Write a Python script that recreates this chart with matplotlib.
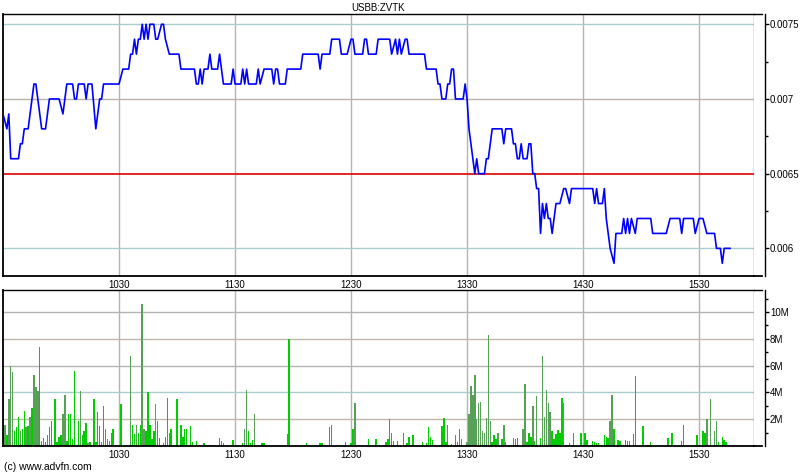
import matplotlib
matplotlib.use("Agg")
import matplotlib.pyplot as plt
from matplotlib.ticker import FixedLocator, NullFormatter

plt.rcParams['font.family'] = ['Liberation Sans', 'DejaVu Sans']

title = "USBB:ZVTK"
footer = "(c) www.advfn.com"

# minutes after 09:30
price_t = [0, 2, 3, 4, 8, 9, 10, 11, 13, 15, 16, 17, 20, 22, 24, 29, 31, 33, 36, 37, 38, 39, 42, 43, 44, 46,
           48, 50, 51, 52, 60, 62, 65, 66, 67, 68, 69, 70, 71, 72, 73, 74, 75, 76, 78, 79, 80, 82, 83, 84,
           86, 91, 92, 99, 100, 101, 102, 103, 104, 106, 107, 108, 111, 112, 114, 118, 119, 120, 123, 124,
           125, 126, 127, 131, 132, 133, 135, 139, 140, 141, 142, 143, 146, 147, 154, 155, 163, 164, 165,
           169, 170, 174, 175, 178, 180, 181, 182, 186, 187, 188, 189, 193, 194, 200, 201, 203, 204, 205,
           206, 208, 209, 210, 218, 219, 224, 225, 226, 227, 229, 230, 231, 232, 233, 234, 238, 239, 240,
           241, 244, 245, 246, 249, 250, 251, 252, 253, 258, 259, 260, 263, 264, 265, 266, 267, 268, 269,
           271, 272, 273, 274, 275, 276, 277, 278, 279, 280, 281, 282, 283, 284, 286, 288, 290, 291, 293,
           294, 305, 306, 307, 308, 310, 311, 312, 314, 316, 317, 320, 321, 322, 323, 324, 325, 327, 328,
           335, 336, 343, 345, 350, 351, 352, 357, 358, 360, 362, 364, 368, 369, 371, 372, 373, 376]
price_v = [.0069, .0068, .0069, .0066, .0066, .0067, .0067, .0068, .0068, .0070, .0071, .0071, .0068, .0068,
           .0070, .0070, .0069, .0071, .0071, .0070, .0070, .0071, .0071, .0070, .0071, .0071,
           .0068, .0070, .0070, .0071, .0071, .0072, .0072, .0073, .0073, .0074, .0073, .0074, .0074, .0075,
           .0074, .0075, .0074, .0075, .0075, .0074, .0074, .0075, .0075, .0074,
           .0073, .0073, .0072, .0072, .0071, .0071, .0072, .0071, .0072, .0072, .0073, .0072, .0072, .0073,
           .0071, .0071, .0072, .0071, .0071, .0072,
           .0071, .0072, .0071, .0071, .0072, .0071, .0072, .0072, .0071, .0072, .0072, .0071, .0071, .0072,
           .0072, .0073, .0073, .0072, .0073,
           .0073, .0074, .0074, .0073, .0073, .0074, .0074, .0073, .0073, .0074, .0074, .0073, .0073, .0074,
           .0074, .0073, .0074, .0073, .0074,
           .0073, .0074, .0074, .0073, .0073, .0072, .0072, .0071, .0071, .0070, .0070, .0071, .0071, .0072,
           .0072, .0070, .0070, .0071, .0070,
           .0068, .0065, .0066, .0065, .0065, .0066, .0066, .0067, .0068, .0068, .0067, .0068, .0068, .0067,
           .0067, .0066, .0066, .0067, .0066,
           .0066, .0067, .0067, .0065, .0065, .0064, .0064, .0061, .0063, .0062, .0063, .0062, .0062, .0061,
           .0063, .0063, .0064, .0064, .0063,
           .0064, .0064, .0063, .0064, .0063, .0063, .0064, .0062, .0060, .0059, .0061, .0061, .0062, .0061,
           .0062, .0061, .0062, .0061, .0062,
           .0062, .0061, .0061, .0062, .0062, .0061, .0062, .0062, .0061, .0062, .0062, .0061, .0061, .0060,
           .0060, .0059, .0060, .0060]
prev_close = 0.0065

vol_t = [0, 1, 2, 3, 4, 5, 6, 7, 8, 9, 10, 11, 12, 13, 14, 15, 16, 17, 18, 19, 20, 21, 22, 23, 24, 25, 27,
         28, 29, 30, 31, 32, 33, 34, 35, 36, 37, 39, 40, 41, 42, 43, 44, 45, 47, 48, 49, 50, 51, 52, 53,
         54, 55, 56, 57, 61, 64, 66, 67, 68, 69, 70, 71, 72, 73, 74, 75, 76, 77, 78, 79, 80, 81, 83, 84,
         85, 86, 87, 90, 92, 93, 94, 95, 97, 98, 100, 104, 105, 106, 107, 108, 110, 112, 113, 114, 115,
         116, 117, 119, 124, 125, 126, 127, 128, 129, 130, 132, 134, 135, 141, 145, 147, 148, 155, 157,
         164, 165, 169, 170, 173, 175, 177, 180, 181, 182, 187, 189, 193, 197, 198, 199, 200, 201, 202,
         204, 207, 209, 210, 212, 213, 217, 219, 220, 221, 222, 226, 227, 228, 229, 230, 232, 234, 235,
         236, 237, 240, 241, 242, 243, 244, 245, 246, 247, 248, 249, 250, 251, 252, 253, 254, 255, 256,
         258, 259, 260, 264, 265, 266, 269, 270, 271, 272, 273, 274, 275, 276, 278, 279, 280, 281, 282,
         283, 284, 285, 286, 287, 288, 289, 290, 293, 295, 299, 301, 302, 305, 306, 307, 308, 310, 311,
         312, 313, 314, 315, 316, 318, 319, 321, 322, 323, 324, 326, 327, 331, 333, 334, 335, 344, 346,
         351, 352, 354, 357, 359, 362, 363, 364, 366, 368, 369, 370, 372, 373, 374]
vol_v = [5.2, 1.6, 0.8, 3.5, 6.0, 5.5, 1.1, 1.4, 2.2, 1.1, 1.3, 2.6, 1.4, 1.5, 2.2, 2.8, 5.3, 4.4, 4.1, 7.4,
         0.4, 0.6, 0.3, 0.8, 1.4, 1.9, 3.5, 0.3, 0.7, 0.8, 2.4, 3.8, 0.4, 2.4, 2.4, 0.5, 5.6, 1.9, 4.1,
         0.8, 1.1, 1.7, 0.25, 0.3, 3.5, 0.3, 2.5, 1.5, 0.3, 3.0, 1.3, 0.5, 0.4, 1.0, 1.3, 3.1, 0.1, 6.7,
         1.6, 0.9, 1.6, 1.0, 1.6, 10.6, 1.3, 1.1, 4.0, 1.6, 0.5, 1.1, 3.1, 1.9, 0.6, 0.2, 0.7, 3.6, 1.0,
         1.3, 3.5, 1.6, 0.7, 1.3, 1.3, 1.5, 0.3, 0.4, 0.2, 0.1, 0.1, 0.1, 0.1, 0.1, 0.6, 0.4, 0.2, 0.1,
         0.1, 0.1, 0.45, 0.2, 1.3, 4.2, 1.1, 0.2, 0.45, 2.4, 0.1, 0.2, 0.2, 0.1, 0.1, 0.9, 8.0, 0.1, 0.2,
         0.2, 0.2, 1.4, 1.6, 0.1, 0.1, 0.3, 0.2, 1.3, 3.2, 0.1, 0.5, 0.5, 0.1, 0.3, 0.5, 2.0, 1.0, 0.4,
         0.4, 1.0, 0.2, 0.7, 0.8, 0.1, 0.3, 0.2, 1.4, 0.7, 0.45, 0.1, 1.5, 2.1, 0.3, 1.6, 0.15, 0.8, 0.3,
         1.3, 0.5, 0.3, 2.4, 4.5, 3.8, 5.3, 2.0, 3.2, 3.3, 1.1, 1.0, 2.1, 8.3, 1.9, 0.3, 0.8, 0.5, 1.0,
         0.5, 1.6, 0.3, 0.6, 0.5, 0.6, 1.3, 4.6, 0.3, 1.0, 0.7, 3.0, 0.4, 3.7, 0.6, 6.7, 2.2, 4.2, 3.2,
         2.5, 1.1, 0.5, 0.9, 1.2, 1.0, 3.6, 3.2, 0.2, 1.0, 1.0, 1.0, 0.45, 0.4, 0.3, 0.25, 0.2, 0.1, 0.8,
         0.7, 0.6, 1.9, 3.8, 1.3, 0.45, 0.4, 0.1, 0.45, 0.4, 0.4, 0.9, 5.2, 1.5, 0.1, 0.1, 0.3, 0.6, 1.0,
         0.4, 1.6, 0.1, 0.1, 0.8, 1.1, 1.0, 2.0, 3.5, 1.1, 1.9, 0.3, 0.7, 0.45, 0.3]
# minutes whose volume bar is drawn in the darker (dashed-looking) colour
vol_dark = [0, 1, 3, 4, 5, 9, 12, 14, 16, 17, 18, 31, 32, 40, 44, 66, 69, 72, 73, 79, 125, 126, 130, 182,
            240, 241, 242, 243, 244, 245, 246, 247, 248, 249, 250, 251, 252, 256, 259, 269, 270, 274, 276,
            279, 280, 281, 282, 283, 290, 314, 315, 364, 366, 368, 369]

hour_pos = [60, 120, 180, 240, 300, 360]
hour_lab = ['1030', '1130', '1230', '1330', '1430', '1530']
price_ticks = [0.0075, 0.007, 0.0065, 0.006]
price_labels = ['0.0075', '0.007', '0.0065', '0.006']
vol_ticks = [2, 4, 6, 8, 10]
vol_labels = ['2M', '4M', '6M', '8M', '10M']

W, H = 800, 475
fig = plt.figure(figsize=(8, 4.75), dpi=100)
fs = 7.0

def frac(x0, y0, x1, y1):
    return [x0 / W, 1 - y1 / H, (x1 - x0) / W, (y1 - y0) / H]

ax1 = fig.add_axes(frac(3, 14, 754, 276))
ax2 = fig.add_axes(frac(3, 290, 754, 446))
xmax = 388.4
ext = 8.0 / 751.0

for ax in (ax1, ax2):
    ax.set_xlim(0, xmax)
    for v in hour_pos:
        ax.axvline(v, color='#b4b4b4', lw=1.0, zorder=0)
    ax.set_xticks(hour_pos)
    ax.set_xticklabels(hour_lab, fontsize=fs)
    ax.tick_params(axis='x', length=0, pad=3)
    ax.spines['left'].set_linewidth(1.3)
    ax.spines['top'].set_linewidth(1.0)
    ax.spines['bottom'].set_linewidth(1.3)
    ax.spines['right'].set_position(('outward', 8))
    ax.spines['right'].set_linewidth(1.0)
    ax.yaxis.tick_right()
    ax.tick_params(axis='y', which='both', direction='out', length=2.5, width=1, pad=0.5, labelsize=fs)
    ax.tick_params(axis='y', which='major', length=3)
    # inner right border of the plot area
    ax.axvline(xmax, color='#808080', lw=1.0, zorder=1)
    # extend top and bottom frame lines to the outer axis
    ax.plot([1, 1 + ext], [1, 1], transform=ax.transAxes, color='black', lw=1.0, clip_on=False)
    ax.plot([1, 1 + ext], [0, 0], transform=ax.transAxes, color='black', lw=1.3, clip_on=False)

# price panel
ax1.set_ylim(0.005815, 0.0075687)
grid_cols = {0.0075: '#a9cccc', 0.007: '#b8b4a8', 0.006: '#a9cccc'}
for v, c in grid_cols.items():
    ax1.axhline(v, color=c, lw=1.0, zorder=0)
ax1.axhline(prev_close, color='#e00000', lw=1.2, zorder=2)
ax1.plot(price_t, price_v, color='#0000ff', lw=1.2, zorder=3)
ax1.yaxis.set_major_locator(FixedLocator(price_ticks))
ax1.set_yticklabels(price_labels)
ax1.yaxis.set_minor_locator(FixedLocator([0.00725, 0.00675, 0.00625]))
ax1.yaxis.set_minor_formatter(NullFormatter())
ax1.set_title(title, fontsize=fs, pad=2)

# volume panel
ax2.set_ylim(0, 11.64)
vgrid = {2: '#bdb8a8', 4: '#a9cccc', 6: '#b4b4b4', 8: '#bdb8a8', 10: '#b4b4b4'}
for v, c in vgrid.items():
    ax2.axhline(v, color=c, lw=1.0, zorder=0)
bar_cols = ['#58a058' if t in vol_dark else '#00cc00' for t in vol_t]
ax2.bar(vol_t, vol_v, width=0.75, color=bar_cols, edgecolor='none', zorder=2)
ax2.yaxis.set_major_locator(FixedLocator(vol_ticks))
ax2.set_yticklabels(vol_labels)
ax2.yaxis.set_minor_locator(FixedLocator([1, 3, 5, 7, 9, 11]))
ax2.yaxis.set_minor_formatter(NullFormatter())

fig.text(4 / W, 1 - 467 / H, footer, fontsize=7.5, ha='left', va='center')

fig.savefig('out.png', dpi=100)
